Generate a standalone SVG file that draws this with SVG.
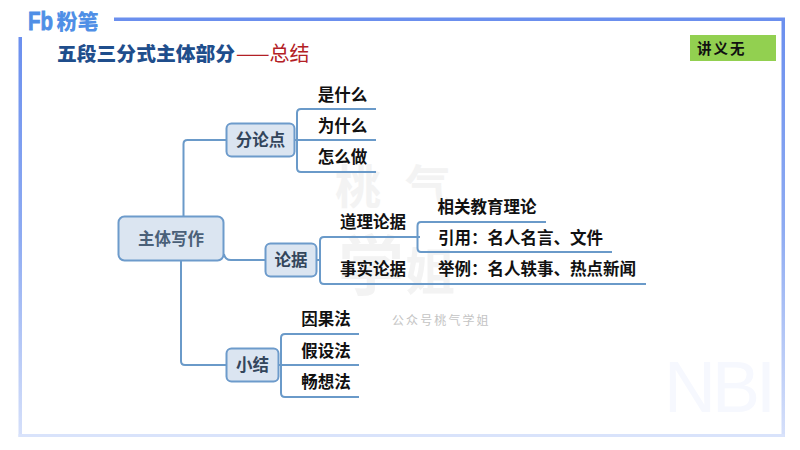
<svg xmlns="http://www.w3.org/2000/svg" width="800" height="450" viewBox="0 0 800 450">
<defs>
<linearGradient id="fr" x1="0" y1="0" x2="0" y2="1"><stop offset="0" stop-color="#6b8fee"/><stop offset="0.5" stop-color="#8eabf2"/><stop offset="1" stop-color="#d6e0fa"/></linearGradient>
</defs>
<style>
text{font-family:"Noto Sans CJK SC","Noto Sans",sans-serif}
.n{fill:#dbe5f1;stroke:#6d9bcb;stroke-width:2}
.l{font-size:16.5px;font-weight:700;fill:#111;text-anchor:middle}
.m{font-size:16.5px;font-weight:700;fill:#33465c;text-anchor:middle}
.c{fill:none;stroke:#6a9ac9;stroke-width:2}
.wm{fill:#f3f3f3;font-weight:700}
</style>
<rect width="800" height="450" fill="#fff"/>
<g id="watermark">
<text class="wm" x="335" y="203" font-size="46">桃</text>
<text class="wm" x="405" y="203" font-size="46">气</text>
<text class="wm" x="338" y="290" font-size="66">学</text>
<text class="wm" x="405" y="290" font-size="50">姐</text>
<text x="664" y="412" font-size="72" font-weight="400" fill="#f6f8fe" style="font-family:'Liberation Sans',sans-serif" textLength="112">NBI</text>
<text x="392" y="325" font-size="12px" letter-spacing="2.1" fill="#c4c4c4">公众号桃气学姐</text>
</g>
<g id="frame">
<rect x="114" y="17.500" width="671" height="3.500" fill="#6b8fee"/>
<rect x="781.500" y="18" width="3.500" height="419" fill="url(#fr)"/>
<rect x="18.500" y="37" width="3.500" height="400" fill="url(#fr)"/>
<rect x="18.500" y="434" width="766" height="3" fill="#d9e3fb"/>
</g>
<g id="logo">
<text x="28" y="30" font-size="25" font-weight="700" fill="#4f8fe6" stroke="#4f8fe6" stroke-width="0.8" textLength="25" lengthAdjust="spacingAndGlyphs" style="font-family:'Liberation Sans',sans-serif">Fb</text>
<text x="56.500" y="29" font-size="21" font-weight="900" fill="#4f8fe6">粉笔</text>
</g>
<g id="title">
<text x="57" y="61" font-size="19.800" font-weight="900" fill="#1f4e8c">五段三分式主体部分</text>
<text x="236" y="61" font-size="20" fill="#b32025">——总结</text>
</g>
<g id="tag">
<rect x="690" y="35" width="86" height="26" fill="#92d050"/>
<text x="697" y="54" font-size="14.500" font-weight="700" letter-spacing="2" fill="#111">讲义无</text>
</g>
<g id="connectors">
<path class="c" d="M183.500 216V144Q183.500 140 187.500 140H226"/>
<path class="c" d="M181 261V361Q181 365 185 365H226"/>
<path class="c" d="M224 254Q225 260 231 260H265"/>
<path class="c" d="M376 109H301Q297 109 297 113V168Q297 172 301 172H376M295 140H376"/>
<path class="c" d="M317 260H320M420 237H324Q320 237 320 241V280Q320 284 324 284H646"/>
<path class="c" d="M546 222H421Q417.500 222 417.500 226V248Q417.500 252 421 252H612"/>
<path class="c" d="M359 334H285Q281 334 281 338V393Q281 397 285 397H359M279 365H359"/>
</g>
<g id="node-main">
<rect class="n" x="118.500" y="216.500" width="105" height="44" rx="6"/>
<text class="m" x="171" y="245" style="fill:#4a6078">主体写作</text>
</g>
<g id="node-fenlundian">
<rect class="n" x="226.500" y="123.500" width="68" height="33" rx="5"/>
<text class="m" x="260.500" y="146">分论点</text>
</g>
<g id="node-lunju">
<rect class="n" x="265.500" y="243.500" width="51" height="33" rx="5"/>
<text class="m" x="291" y="266">论据</text>
</g>
<g id="node-xiaojie">
<rect class="n" x="226.500" y="348.500" width="52" height="33" rx="5"/>
<text class="m" x="252.500" y="371">小结</text>
</g>
<g id="leaves">
<text class="l" x="342.500" y="101">是什么</text>
<text class="l" x="342.500" y="132">为什么</text>
<text class="l" x="342.500" y="163">怎么做</text>
<text class="l" x="373" y="228">道理论据</text>
<text class="l" x="373" y="275">事实论据</text>
<text class="l" x="487" y="213">相关教育理论</text>
<text class="l" x="438" y="244" style="text-anchor:start">引用：名人名言、文件</text>
<text class="l" x="438" y="275" style="text-anchor:start">举例：名人轶事、热点新闻</text>
<text class="l" x="326" y="325">因果法</text>
<text class="l" x="326" y="357">假设法</text>
<text class="l" x="326" y="388">畅想法</text>
</g>
</svg>
